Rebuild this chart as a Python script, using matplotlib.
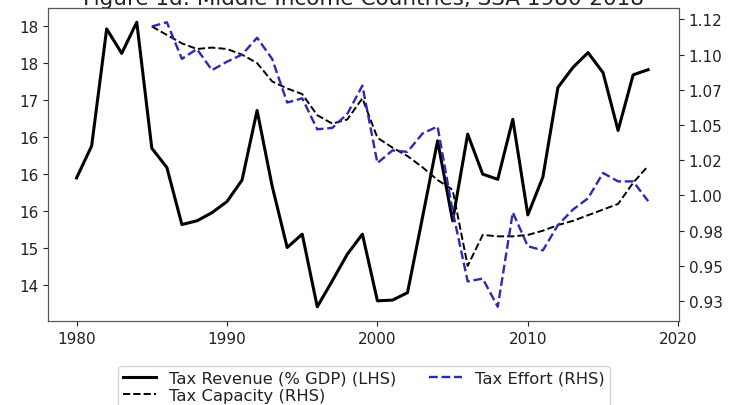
import numpy as np
import matplotlib
matplotlib.use('Agg')
import matplotlib.pyplot as plt

# Tax revenue, % of GDP (left axis)
years_rev = list(range(1980, 2019))
tax_revenue = [15.95, 16.38, 17.96, 17.63, 18.05, 16.35, 16.09, 15.32, 15.37, 15.48,
               15.63, 15.92, 16.86, 15.84, 15.01, 15.19, 14.21, 14.56, 14.92, 15.19,
               14.29, 14.30, 14.40, 15.42, 16.45, 15.37, 16.54, 16.00, 15.93, 16.74,
               15.45, 15.96, 17.17, 17.44, 17.64, 17.37, 16.59, 17.34, 17.41]

# Tax capacity and tax effort (right axis)
years_rhs = list(range(1985, 2019))
tax_capacity = [1.120, 1.114, 1.108, 1.104, 1.105, 1.104, 1.100, 1.094, 1.081, 1.076,
                1.072, 1.057, 1.051, 1.054, 1.069, 1.041, 1.034, 1.028, 1.020, 1.011,
                1.004, 0.950, 0.972, 0.971, 0.971, 0.972, 0.975, 0.979, 0.982, 0.986,
                0.990, 0.994, 1.009, 1.021]
tax_effort = [1.120, 1.123, 1.097, 1.104, 1.089, 1.095, 1.100, 1.112, 1.097, 1.066,
              1.069, 1.047, 1.048, 1.058, 1.078, 1.023, 1.032, 1.031, 1.044, 1.049,
              0.989, 0.939, 0.941, 0.921, 0.988, 0.964, 0.961, 0.979, 0.990, 0.998,
              1.016, 1.010, 1.010, 0.996]

lhs_ticks = [14.5, 15.0, 15.5, 16.0, 16.5, 17.0, 17.5, 18.0]
lhs_labels = ['14', '15', '16', '16', '16', '17', '18', '18']
rhs_ticks = [0.925, 0.95, 0.975, 1.0, 1.025, 1.05, 1.075, 1.1, 1.125]
rhs_labels = ['0.93', '0.95', '0.98', '1.00', '1.02', '1.05', '1.07', '1.10', '1.12']
x_ticks = [1980, 1990, 2000, 2010, 2020]

txt = '#222222'
plt.rcParams['text.color'] = txt
plt.rcParams['xtick.color'] = txt
plt.rcParams['ytick.color'] = txt
plt.rcParams['axes.edgecolor'] = '#555555'

fig = plt.figure(figsize=(7.32, 4.06), dpi=100)
ax = fig.add_axes([0.0656, 0.2069, 0.8620, 0.7709])

l1, = ax.plot(years_rev, tax_revenue, color='black', lw=2.2,
              label='Tax Revenue (% GDP) (LHS)')
ax.set_xlim(1978.1, 2020.05)
ax.set_xticks(x_ticks)
ax.set_yticks(lhs_ticks, lhs_labels)
ax.tick_params(labelsize=11)
ax.set_title('Figure 1d: Middle Income Countries, SSA 1980-2018',
             fontsize=15.5, pad=3)

ax2 = ax.twinx()
l2, = ax2.plot(years_rhs, tax_capacity, color='black', ls='--', lw=1.4,
               label='Tax Capacity (RHS)')
l3, = ax2.plot(years_rhs, tax_effort, color='#2a2ab4', ls='--', lw=1.7,
               label='Tax Effort (RHS)')
ax2.set_yticks(rhs_ticks, rhs_labels)
ax2.tick_params(labelsize=11)

lines = [l1, l2, l3]
fig.legend(lines, [l.get_label() for l in lines], loc='upper center',
           bbox_to_anchor=(0.4975, 0.0968), ncol=2, fontsize=11.8,
           labelspacing=0.15, borderaxespad=0, borderpad=0.3)

fig.savefig('out.png', dpi=100)
